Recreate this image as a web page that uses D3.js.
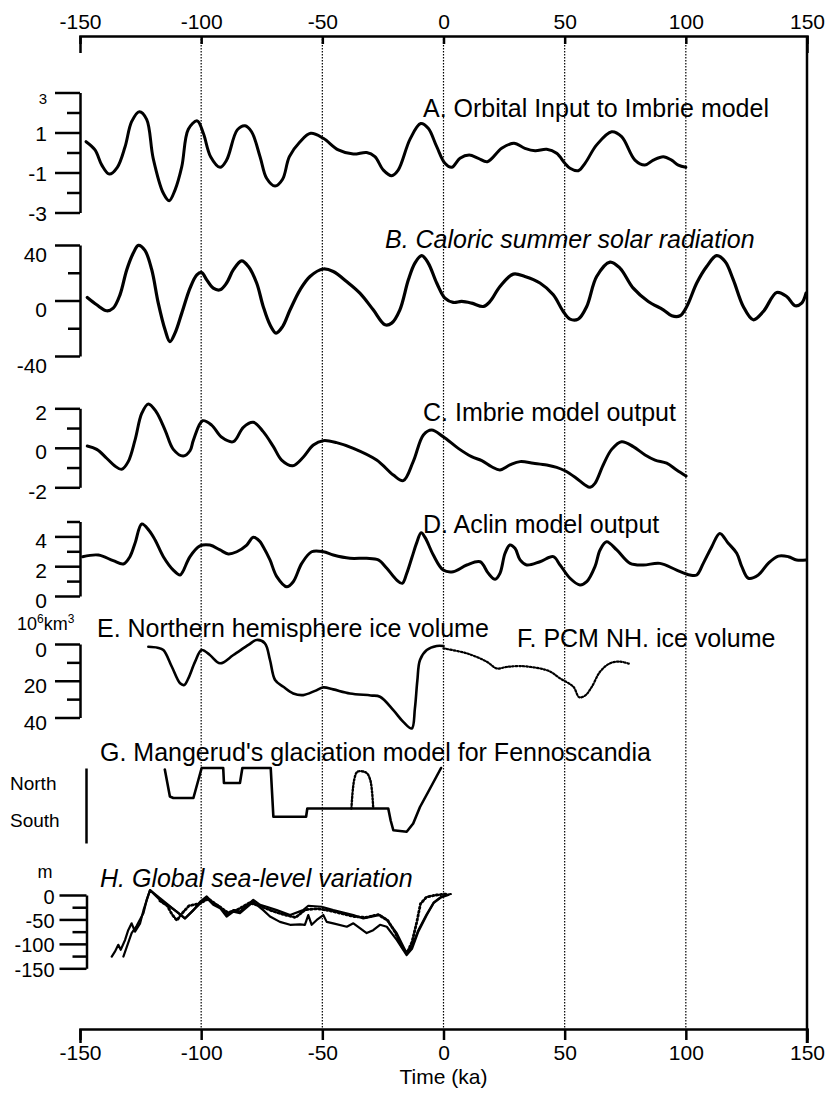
<!DOCTYPE html>
<html>
<head>
<meta charset="utf-8">
<script src="https://cdn.jsdelivr.net/npm/d3@7"></script>
<style>
body { margin: 0; background: #fff; }
svg { display: block; font-family: "Liberation Sans", Arial, Helvetica, sans-serif; }
.curve { fill: none; stroke: #000; stroke-linejoin: round; stroke-linecap: round; }
.grid { stroke: #000; stroke-width: 1.2; stroke-dasharray: 1.5 1.5; }
</style>
</head>
<body>
<svg id="chart" width="828" height="1110"></svg>
<script>
// time axis (ka)
const timeTicks = [-150, -100, -50, 0, 50, 100, 150];
const gridTimes = [-100, -50, 0, 50, 100];

// A. orbital input to Imbrie model  [ka, value]
const orbitalInput = [[-147.5,0.54],[-143.8,0.13],[-141,-0.63],[-137.9,-1.08],[-134.6,-0.74],[-131.4,0.29],[-128.7,1.54],[-125.5,2.04],[-122.5,1.66],[-119.8,-0.29],[-115.6,-2.04],[-113.2,-2.41],[-110.8,-1.88],[-108,-0.71],[-105.3,1.16],[-101.6,1.58],[-99.1,0.96],[-96.1,-0.21],[-92.2,-0.74],[-89.5,-0.38],[-85.1,1.13],[-81.9,1.34],[-79.2,1.04],[-75.7,-0.21],[-73,-1.29],[-69.5,-1.68],[-66.4,-1.34],[-63.6,-0.21],[-59.2,0.54],[-54.8,0.96],[-49.6,0.71],[-43.4,0.13],[-37.2,-0.08],[-31.7,0],[-28.3,-0.21],[-24.8,-0.88],[-21.4,-1.16],[-18.7,-0.88],[-13.8,0.67],[-9.4,1.45],[-6.3,1.21],[-2.8,0.29],[0.6,-0.54],[3.4,-0.74],[6.8,-0.29],[10.6,-0.13],[14.4,-0.29],[18.1,-0.46],[24,0.21],[29.1,0.46],[33.6,0.21],[37.8,0.09],[42.6,0.16],[46.7,-0.04],[50.1,-0.54],[52.2,-0.79],[55.6,-0.91],[58.4,-0.54],[63.2,0.38],[69.4,1.04],[73.5,0.79],[79,-0.38],[83.1,-0.63],[86.6,-0.38],[90.7,-0.21],[94.1,-0.38],[96.9,-0.63],[100,-0.74]];

// B. caloric summer solar radiation
const caloricRadiation = [[-147,2.2],[-143.1,-3.1],[-139,-7.4],[-136.3,-5.5],[-133.5,4.1],[-130.7,22.2],[-128,34.2],[-125.9,39.7],[-123.2,36.1],[-120.4,22.2],[-117.7,-1.9],[-114.9,-21.1],[-112.9,-29.6],[-110.8,-23.5],[-108,-9.1],[-104.6,8.9],[-101.8,18.5],[-99.8,20.2],[-97.7,14.9],[-95,8.9],[-92.2,7.7],[-89.5,12.6],[-86.7,22.2],[-83.3,28.6],[-80.5,24.5],[-77.1,12.6],[-74.4,-4.3],[-71.6,-17.5],[-69.1,-23.5],[-66.4,-18.8],[-63.3,-6.7],[-59.2,7.7],[-55.1,17.3],[-49.6,22.7],[-45.5,20.9],[-40,13.7],[-34.5,5.3],[-29,-6.7],[-24.1,-17.5],[-21.4,-16.3],[-18,-6.7],[-14.5,14.9],[-11.8,27],[-9,32.3],[-6.3,27],[-2.8,12.6],[0.6,1.7],[4,-1.4],[7.5,-0.7],[11.6,-1.9],[16.4,-4.3],[19.2,-0.7],[23.3,10.1],[28.8,19],[33.6,17.3],[39.8,12.6],[45.3,4.1],[49.4,-7.9],[52.2,-13.4],[55.6,-13.4],[59.1,-4.3],[63.2,17.3],[68.7,27.7],[72.8,23.4],[78.3,8.9],[84.5,-0.7],[90.7,-6.7],[94.2,-11],[97.6,-11],[100.4,-4.3],[104.5,12.6],[108.6,24.5],[112.7,32.3],[116.2,28.1],[119.6,14.9],[123.7,-4.3],[127.8,-13.9],[132,-7.9],[137.5,5.8],[141.6,2.9],[145.1,-3.8],[147.8,-1.9],[149.6,5.3]];

// C. Imbrie model output
const imbrieOutput = [[-147,0.09],[-143.1,-0.08],[-139,-0.53],[-135.6,-0.92],[-132.8,-1.09],[-130.1,-0.7],[-127.3,0.39],[-124.5,1.75],[-121.8,2.22],[-118.6,1.83],[-114.9,0.9],[-111.5,-0.08],[-107.4,-0.42],[-104.6,-0.15],[-103.2,0.39],[-99.4,1.37],[-95.7,1.15],[-91.5,0.53],[-86.7,0.31],[-82.6,1.04],[-78.5,1.29],[-74.4,0.82],[-70.2,0.06],[-66.8,-0.62],[-62.2,-0.91],[-57.9,-0.48],[-53.7,0.14],[-49.6,0.36],[-44.1,0.26],[-37.2,-0.03],[-27.6,-0.62],[-20.7,-1.38],[-16.6,-1.66],[-12.5,-0.7],[-8.3,0.65],[-4.9,0.9],[-0.1,0.56],[6.1,-0.03],[11.6,-0.45],[15.8,-0.65],[19.9,-0.96],[23.3,-1.12],[27.4,-0.87],[31.6,-0.7],[37.1,-0.78],[42.6,-0.87],[46.7,-0.99],[50.1,-1.16],[54.3,-1.49],[58.4,-1.88],[60.5,-2],[62.5,-1.8],[65.9,-0.87],[69.4,-0.08],[73.5,0.31],[78.3,0.06],[83.2,-0.36],[87.3,-0.62],[92.1,-0.78],[96.2,-1.12],[100.1,-1.43]];

// D. Aclin model output
const aclinOutput = [[-148.9,2.64],[-142.4,2.75],[-136.3,2.37],[-132.1,2.15],[-129.4,2.64],[-127.3,3.54],[-124.5,4.83],[-121.5,4.4],[-119,3.76],[-115.6,2.64],[-111.5,1.74],[-108.7,1.41],[-107.6,1.63],[-104.6,2.64],[-100.5,3.36],[-96.4,3.42],[-92.2,3.09],[-88.8,2.82],[-85.3,2.97],[-81.2,3.42],[-78.5,3.94],[-76,3.7],[-74.4,3.31],[-71.6,2.42],[-68.8,1.3],[-64.7,0.62],[-62,0.96],[-58.5,2.19],[-54.4,2.97],[-49.6,2.97],[-45.5,2.75],[-38.6,2.53],[-31.7,2.53],[-26.9,2.42],[-23.4,1.86],[-19.3,1.07],[-17,0.85],[-15.2,1.5],[-13,2.6],[-11,3.6],[-9.2,4.25],[-7.5,3.9],[-4.2,2.75],[-0.1,1.74],[4,1.63],[9.6,2.08],[15.1,2.3],[18.5,1.52],[21.3,1.12],[23.3,1.52],[25.4,2.87],[27.4,3.42],[29.5,3.2],[31.6,2.42],[34.3,2.08],[39.8,2.3],[45.3,2.64],[48.1,2.08],[52.2,1.19],[56.3,0.74],[59.1,0.96],[62.5,1.97],[64.6,3.09],[67.3,3.64],[71.5,3.09],[77,2.19],[82.4,2.08],[89.3,2.19],[96.2,1.74],[101.7,1.41],[104.5,1.41],[107.2,2.19],[110.7,3.31],[114,4.2],[117.5,3.54],[121,2.87],[123.1,1.97],[125.8,1.19],[129.9,1.41],[134,2.19],[138.2,2.68],[142.3,2.64],[145.7,2.42],[149.6,2.42]];

// E. Northern hemisphere ice volume (10^6 km^3)
const nhIceVolume = [[-121.8,1.5],[-118,2],[-115.6,3.3],[-112.1,12.4],[-108.7,21.4],[-107,22.3],[-105.3,18.7],[-102.5,9.6],[-99.8,3.3],[-96.4,6],[-92.2,10.5],[-86.7,6],[-80.5,0.5],[-77.1,-2.2],[-73.7,-0.4],[-71.6,8.7],[-69.5,19.6],[-66.1,23.3],[-62,26.9],[-57.9,27.8],[-53,25.5],[-49.6,23.6],[-45.5,24.7],[-38.6,26.9],[-30,28],[-26.2,28.7],[-20.7,36],[-16.6,42.4],[-13.1,46],[-11.8,35],[-10.8,20],[-9.7,8.7],[-6.9,3.3],[-2.8,1.1],[0,1.1]];

// F. PCM NH ice volume
const pcmIceVolume = [[0,2.4],[9.6,5.1],[17.8,9.6],[22,13.3],[26,12.5],[31.6,12],[39.8,13.3],[44,15],[48.1,18.7],[53.6,23.3],[56,29],[58.5,28],[61.2,23.3],[64.6,15.1],[68.7,10.5],[72.8,9.6],[77,10.9]];

// G. Mangerud's glaciation model (0 = south, 1 = north)
const mangerudModel = [[-115,0.98],[-112.9,0.62],[-111.5,0.6],[-103.2,0.6],[-99.8,1],[-90.9,1],[-90.6,0.8],[-84,0.8],[-83,1],[-71.3,1],[-70.2,0.35],[-56.7,0.35],[-56.2,0.46],[-22.8,0.46],[-21.8,0.3],[-20.7,0.17],[-15.2,0.15],[-12.5,0.26],[-9.7,0.48],[-6,0.7],[-3,0.88],[-1,1]];
const mangerudAlt = [[-38,0.46],[-36.8,0.85],[-35.5,0.95],[-32,0.94],[-30.3,0.85],[-29,0.46]];

// H. Global sea-level variation (m)
const seaLevelUpper = [[-136.9,-126],[-135.6,-116],[-134.2,-102],[-133.2,-112],[-131.4,-92],[-130.1,-72],[-128.7,-58],[-127.3,-75],[-125.2,-58],[-123.8,-31],[-121.1,10],[-117,-10],[-112.9,-24],[-110.1,-34],[-106.7,-48],[-103.2,-31],[-100.5,-14],[-97.7,-3],[-95,-17],[-92.2,-24],[-89.5,-41],[-86.7,-31],[-84,-34],[-78.5,-10],[-75.7,-20],[-73,-24],[-68.8,-31],[-63.3,-41],[-57.9,-31],[-55.8,-22],[-50.3,-24],[-45.5,-31],[-37.2,-41],[-33.1,-48],[-26.2,-41],[-23.4,-51],[-19.3,-78],[-15.2,-119],[-13.1,-106],[-10.4,-72],[-7,-40],[-4,-15],[-1,-4],[1,0],[3,2]];
const seaLevelLower = [[-132.1,-126],[-128.7,-78],[-126.6,-63],[-123.8,-37],[-122.5,-10],[-121.1,10],[-106.7,-48],[-103.2,-31],[-100.5,-18],[-97.7,-6],[-95,-20],[-92.2,-27],[-89.5,-44],[-86.7,-34],[-84,-37],[-78.5,-14],[-74.4,-31],[-71.6,-44],[-67.5,-55],[-63.3,-61],[-59.2,-60],[-57.2,-61],[-55.8,-41],[-54.4,-61],[-52.3,-51],[-49.6,-41],[-48.2,-55],[-45.5,-58],[-39.9,-65],[-37.2,-58],[-34.5,-68],[-31.7,-78],[-29,-72],[-26.2,-61],[-23.4,-65],[-19.3,-92],[-15.2,-123],[-13,-110],[-10.4,-75],[-7,-42],[-4,-16],[-1,-5],[2,0]];
const seaLevelDotted = [[-117,-12],[-114,-22],[-112,-40],[-110,-52],[-108,-38],[-105,-22],[-101,-18],[-97,-8],[-93,-22],[-89,-36],[-85,-30],[-80,-16],[-76,-22],[-71,-32],[-66,-40],[-61,-46],[-57,-30],[-52,-28],[-47,-32],[-42,-38],[-37,-44],[-32,-46],[-27,-40],[-23,-52],[-20,-76],[-17,-108],[-15,-118],[-13,-96],[-11,-55],[-9.5,-18],[-7,-4],[-3,0],[1,2]];

// ---------------------------------------------------------------
const svg = d3.select('#chart');
const x = d3.scaleLinear().domain([-150, 150]).range([80, 807]);

const yA = d3.scaleLinear().domain([-3, 3]).range([212.5, 92.5]);
const yB = d3.scaleLinear().domain([-40, 40]).range([356, 245]);
const yC = d3.scaleLinear().domain([-2, 2]).range([487.3, 408.3]);
const yD = d3.scaleLinear().domain([0, 5]).range([596, 521.5]);
const yE = d3.scaleLinear().domain([0, 40]).range([644, 717.5]);
const yG = d3.scaleLinear().domain([0, 1]).range([843, 768]);
const yH = d3.scaleLinear().domain([-150, 0]).range([968.3, 895]);

const plain = (d) => String(d);   // hyphen minus, as in the original

// dotted time grid
svg.append('g').selectAll('line').data(gridTimes).enter().append('line')
  .attr('class', 'grid')
  .attr('x1', (d) => x(d)).attr('x2', (d) => x(d))
  .attr('y1', 36).attr('y2', 1029);

function styleAxis(g, size) {
  g.attr('font-family', null).attr('font-size', size);
  g.selectAll('path, line').attr('stroke-width', 2.5);
}

// top and bottom time axes + right frame
const topAxis = svg.append('g').attr('transform', 'translate(0,36)')
  .call(d3.axisTop(x).tickValues(timeTicks).tickSize(-8).tickSizeOuter(-17).tickPadding(7)
    .tickFormat(plain));
styleAxis(topAxis, 21);
topAxis.selectAll('.tick text').attr('dy', 0);

const bottomAxis = svg.append('g').attr('transform', 'translate(0,1029)')
  .call(d3.axisBottom(x).tickValues(timeTicks).tickSize(11).tickSizeOuter(14).tickPadding(5)
    .tickFormat(plain));
styleAxis(bottomAxis, 21);

svg.append('line').attr('x1', x(150)).attr('x2', x(150)).attr('y1', 36).attr('y2', 1043)
  .attr('stroke', '#000').attr('stroke-width', 2.5);

svg.append('text').attr('x', x(0)).attr('y', 1084).attr('text-anchor', 'middle')
  .attr('font-size', 21).text('Time (ka)');

// left value axes
function leftAxis(ax, y, majors, minors, longTick, shortTick, dy, size) {
  const g = svg.append('g').attr('transform', `translate(${ax},0)`);
  g.call(d3.axisLeft(y).tickValues(majors).tickSize(longTick).tickSizeOuter(0).tickPadding(8)
    .tickFormat(plain));
  styleAxis(g, size);
  g.selectAll('.tick text').attr('dy', dy);
  if (minors.length) {
    const m = svg.append('g').attr('transform', `translate(${ax},0)`);
    m.call(d3.axisLeft(y).tickValues(minors).tickSize(shortTick).tickFormat(''));
    m.select('.domain').remove();
    styleAxis(m, size);
  }
  return g;
}

const axA = leftAxis(80, yA, [3, 1, -1, -3], [2, 0, -2], 25, 13, 8, 21);
axA.selectAll('.tick text').filter((d) => d === 3).attr('font-size', 15).attr('dy', 11);
leftAxis(80, yB, [40, 0, -40], [20, -20], 25, 12, 16, 21);
leftAxis(80, yC, [2, 0, -2], [1, -1], 25, 13, 11, 21);
leftAxis(80, yD, [4, 2, 0], [5, 3, 1], 25, 13, 11, 21);
leftAxis(80, yE, [0, 20, 40], [10, 30], 25, 13, 12, 21);
leftAxis(86.5, yH, [0, -50, -100, -150], [-25, -75, -125], 27, 14, 8, 20)
  .selectAll('.tick').select('text').attr('x', -32);
const axG = svg.append('g').attr('transform', 'translate(86,0)')
  .call(d3.axisLeft(yG).tickValues([]).tickSizeOuter(0));
styleAxis(axG, 19);

// curves
function curve(data, y, width, dash, smooth) {
  const line = d3.line().x((d) => x(d[0])).y((d) => y(d[1]))
    .curve(smooth ? d3.curveCatmullRom.alpha(0.5) : d3.curveLinear);
  svg.append('path').datum(data).attr('class', 'curve')
    .attr('stroke-width', width)
    .attr('stroke-dasharray', dash)
    .attr('d', line);
}

curve(orbitalInput, yA, 3, null, true);
curve(caloricRadiation, yB, 3.2, null, true);
curve(imbrieOutput, yC, 3, null, true);
curve(aclinOutput, yD, 3, null, true);
curve(nhIceVolume, yE, 2.6, null, true);
curve(pcmIceVolume, yE, 2.2, '1.5 2', true);
curve(mangerudModel, yG, 2.6, null, false);
curve(mangerudAlt, yG, 2.4, '1.5 2', true);
curve(seaLevelLower, yH, 2.2, null, false);
curve(seaLevelUpper, yH, 2.2, null, false);
curve(seaLevelDotted, yH, 2.8, '1.5 2.5', false);

// panel titles
const titles = [
  {t: 'A. Orbital Input to Imbrie model', x: 423, y: 117, italic: false},
  {t: 'B. Caloric summer solar radiation', x: 385, y: 248, italic: true},
  {t: 'C. Imbrie model output', x: 423, y: 421, italic: false},
  {t: 'D. Aclin model output', x: 423, y: 533, italic: false},
  {t: 'E. Northern hemisphere ice volume', x: 97, y: 637, italic: false},
  {t: 'F. PCM NH. ice volume', x: 517, y: 647, italic: false},
  {t: "G. Mangerud's glaciation model for Fennoscandia", x: 100, y: 761, italic: false},
  {t: 'H. Global sea-level variation', x: 100, y: 887, italic: true}
];
svg.append('g').selectAll('text').data(titles).enter().append('text')
  .attr('x', (d) => d.x).attr('y', (d) => d.y)
  .attr('font-size', 25)
  .attr('font-style', (d) => d.italic ? 'italic' : null)
  .text((d) => d.t);

// unit labels
const unitE = svg.append('text').attr('x', 17).attr('y', 630).attr('font-size', 18);
unitE.append('tspan').text('10');
unitE.append('tspan').attr('font-size', 12).attr('dy', -7).text('6');
unitE.append('tspan').attr('dy', 7).text('km');
unitE.append('tspan').attr('font-size', 12).attr('dy', -7).text('3');

svg.append('text').attr('x', 45).attr('y', 878).attr('text-anchor', 'middle')
  .attr('font-size', 18).text('m');
svg.append('text').attr('x', 10).attr('y', 790).attr('font-size', 19).text('North');
svg.append('text').attr('x', 10).attr('y', 827).attr('font-size', 19).text('South');
</script>
</body>
</html>
